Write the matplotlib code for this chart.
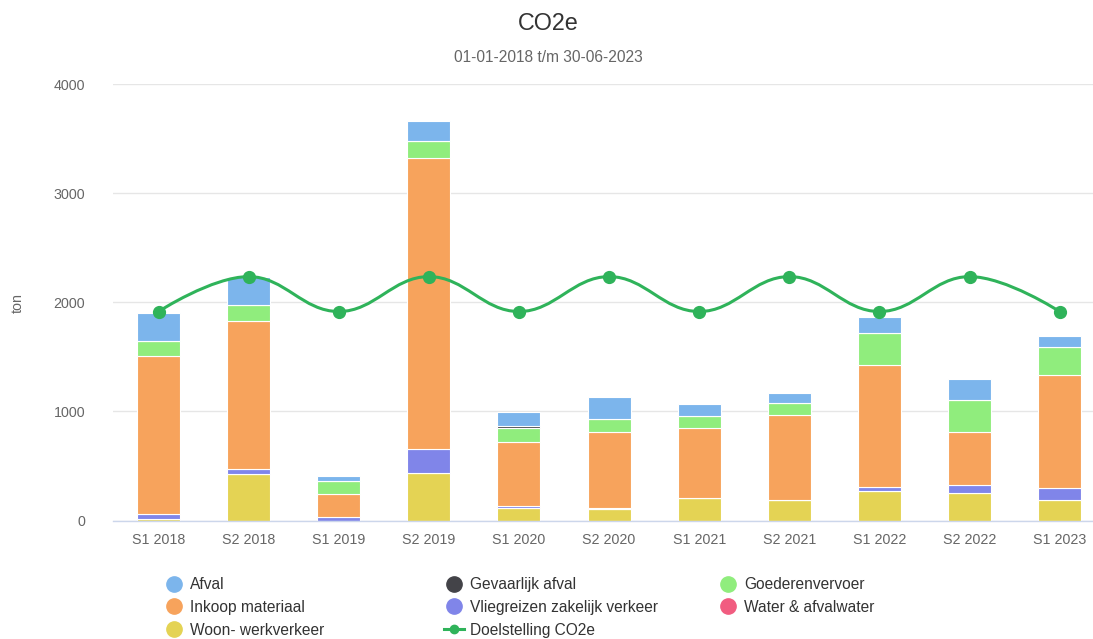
import numpy as np
import matplotlib
matplotlib.use("Agg")
import matplotlib.pyplot as plt
from matplotlib.path import Path
from matplotlib.patches import PathPatch
from matplotlib.lines import Line2D

plt.rcParams['font.family'] = ['Liberation Sans', 'DejaVu Sans']

periods = ["S1 2018", "S2 2018", "S1 2019", "S2 2019", "S1 2020", "S2 2020",
           "S1 2021", "S2 2021", "S1 2022", "S2 2022", "S1 2023"]

# stacked series, bottom to top
woon = [10, 423, 0, 433, 117, 103, 203, 190, 273, 249, 188]
water = [0, 0, 0, 0, 0, 0, 0, 0, 0, 0, 0]
vlieg = [45, 49, 32, 222, 20, 14, 0, 0, 37, 76, 107]
inkoop = [1455, 1357, 208, 2665, 580, 694, 648, 773, 1115, 489, 1041]
goederen = [135, 146, 119, 158, 134, 122, 107, 112, 296, 290, 257]
gevaarlijk = [0, 0, 0, 0, 14, 0, 0, 0, 0, 0, 0]
afval = [255, 255, 49, 187, 132, 199, 113, 91, 141, 196, 98]
doel = [1915, 2235, 1915, 2235, 1915, 2235, 1915, 2235, 1915, 2235, 1915]

series = [
    ("Woon- werkverkeer", woon, "#e4d354"),
    ("Water & afvalwater", water, "#f15c80"),
    ("Vliegreizen zakelijk verkeer", vlieg, "#8085e9"),
    ("Inkoop materiaal", inkoop, "#f7a35c"),
    ("Goederenvervoer", goederen, "#90ed7d"),
    ("Gevaarlijk afval", gevaarlijk, "#434348"),
    ("Afval", afval, "#7cb5ec"),
]
colors = {name: c for name, _, c in series}
line_color = "#2fb35a"

W, H = 1093, 639
fig = plt.figure(figsize=(W / 100, H / 100), dpi=100)
left, right, bottom, top = 113, 1093, 520.5, 84
ax = fig.add_axes([left / W, 1 - bottom / H, (right - left) / W, (bottom - top) / H])

x = np.arange(len(periods))
base = np.zeros(len(periods))
for name, vals, c in series:
    v = np.array(vals, dtype=float)
    ax.bar(x, v, bottom=base, width=0.477, color=c, edgecolor="white",
           linewidth=0.8, zorder=2)
    base += v


# Highcharts-like spline through the target points
def spline_path(xs, ys, smoothing=1.5):
    n = len(xs)
    denom = smoothing + 1
    rc = [None] * n
    lc = [None] * n
    for i in range(1, n - 1):
        px, py = xs[i], ys[i]
        lx, ly = xs[i - 1], ys[i - 1]
        nx, ny = xs[i + 1], ys[i + 1]
        lcx = (smoothing * px + lx) / denom
        lcy = (smoothing * py + ly) / denom
        rcx = (smoothing * px + nx) / denom
        rcy = (smoothing * py + ny) / denom
        corr = 0
        if rcx != lcx:
            corr = (rcy - lcy) * (rcx - px) / (rcx - lcx) + py - rcy
        lcy += corr
        rcy += corr
        if lcy > ly and lcy > py:
            lcy = max(ly, py); rcy = 2 * py - lcy
        elif lcy < ly and lcy < py:
            lcy = min(ly, py); rcy = 2 * py - lcy
        if rcy > ny and rcy > py:
            rcy = max(ny, py); lcy = 2 * py - rcy
        elif rcy < ny and rcy < py:
            rcy = min(ny, py); lcy = 2 * py - rcy
        lc[i] = (lcx, lcy)
        rc[i] = (rcx, rcy)
    verts = [(xs[0], ys[0])]
    codes = [Path.MOVETO]
    for i in range(1, n):
        c1 = rc[i - 1] if rc[i - 1] else (xs[i - 1], ys[i - 1])
        c2 = lc[i] if lc[i] else (xs[i], ys[i])
        verts += [c1, c2, (xs[i], ys[i])]
        codes += [Path.CURVE4] * 3
    return Path(verts, codes)


ax.add_patch(PathPatch(spline_path(list(x.astype(float)), doel), facecolor="none",
                       edgecolor=line_color, linewidth=2.2, zorder=3))
ax.plot(x, doel, "o", color=line_color, markersize=8.5, zorder=4)

ax.set_xlim(-0.505, 10.37)
ax.set_ylim(0, 4000)
ax.set_yticks([0, 1000, 2000, 3000, 4000])
ax.set_xticks(x)
ax.set_xticklabels(periods)
ax.grid(axis="y", color="#e6e6e6", linewidth=1, zorder=0)
ax.set_axisbelow(True)
for s in ["top", "right", "left"]:
    ax.spines[s].set_visible(False)
ax.spines["bottom"].set_color("#ccd6eb")
ax.spines["bottom"].set_linewidth(1)
ax.tick_params(axis="both", length=0, labelsize=10.3, labelcolor="#666666")
ax.tick_params(axis="x", pad=9)
ax.tick_params(axis="y", pad=20)

fig.text(18 / W, 1 - 303 / H, "ton", rotation=90, ha="center", va="center",
         fontsize=10.3, color="#666666")
fig.text(548 / W, 1 - 23 / H, "CO2e", ha="center", va="center",
         fontsize=16.8, color="#333333")
fig.text(548 / W, 1 - 57 / H, "01-01-2018 t/m 30-06-2023", ha="center",
         va="center", fontsize=11.2, color="#666666")


def dot(c):
    return Line2D([], [], marker="o", linestyle="none", color=c, markersize=11)


columns = [
    (164, [("Afval", dot(colors["Afval"])),
           ("Inkoop materiaal", dot(colors["Inkoop materiaal"])),
           ("Woon- werkverkeer", dot(colors["Woon- werkverkeer"]))]),
    (444, [("Gevaarlijk afval", dot(colors["Gevaarlijk afval"])),
           ("Vliegreizen zakelijk verkeer", dot(colors["Vliegreizen zakelijk verkeer"])),
           ("Doelstelling CO2e", Line2D([], [], color=line_color, linewidth=2.2,
                                        marker="o", markersize=6))]),
    (718, [("Goederenvervoer", dot(colors["Goederenvervoer"])),
           ("Water & afvalwater", dot(colors["Water & afvalwater"]))]),
]
for xpix, items in columns:
    fig.legend([h for _, h in items], [l for l, _ in items], loc="upper left",
               bbox_to_anchor=(xpix / W, 1 - 577 / H), frameon=False,
               fontsize=11.2, labelcolor="#333333", handlelength=1.3,
               handletextpad=0.4, labelspacing=0.5, borderpad=0,
               borderaxespad=0)

fig.savefig("out.png", dpi=100, facecolor="white")
